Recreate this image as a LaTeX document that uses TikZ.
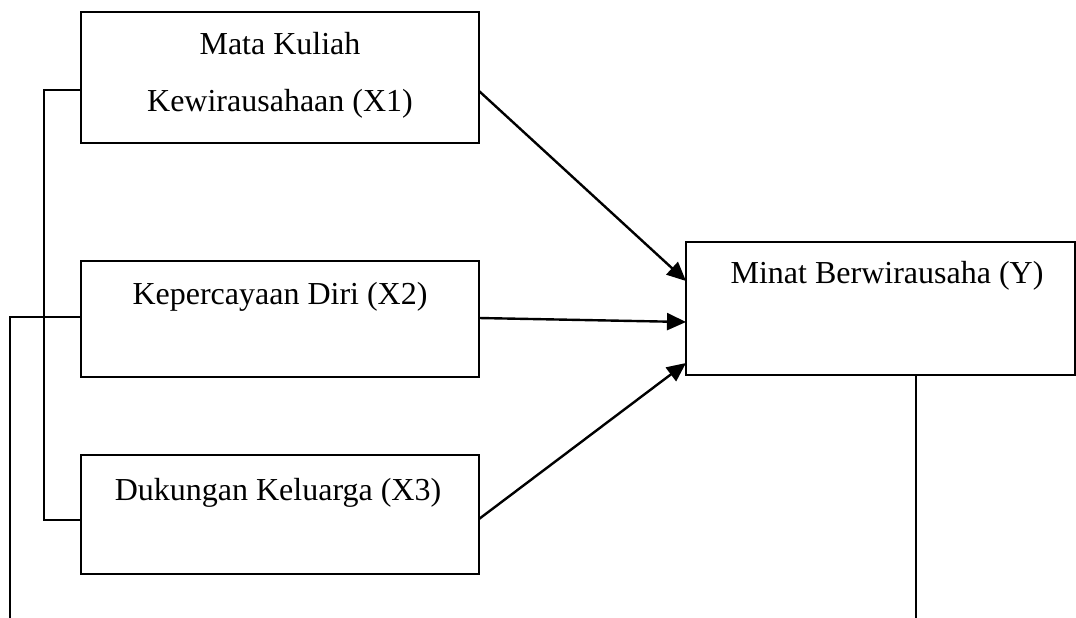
\documentclass[tikz,border=0pt]{standalone}
\usepackage{fontspec}
\setmainfont{Liberation Serif}
\usetikzlibrary{arrows.meta}
\begin{document}
\begin{tikzpicture}[x=1pt,y=-1pt,
  box/.style={draw,line width=2pt,rectangle,inner sep=0pt,outer sep=0pt},
  lbl/.style={anchor=base,inner sep=0pt,font=\fontsize{32}{38}\selectfont},
  conn/.style={line width=2pt},
  arr/.style={line width=2.4pt,-{Triangle[length=19pt,width=17pt]}}]
\useasboundingbox (0,0) rectangle (1076,618);
% boxes
\node[box,minimum width=398pt,minimum height=131pt] (x1) at (280,77.5) {};
\node[box,minimum width=398pt,minimum height=116pt] (x2) at (280,319) {};
\node[box,minimum width=398pt,minimum height=119pt] (x3) at (280,514.5) {};
\node[box,minimum width=389pt,minimum height=133pt] (y) at (880.5,308.5) {};
% texts
\node[lbl] (t1a) at (280,55) {Mata Kuliah};
\node[lbl] (t1b) at (280,111) {Kewirausahaan (X1)};
\node[lbl] (t2) at (280,304) {Kepercayaan Diri (X2)};
\node[lbl] (t3) at (278,500) {Dukungan Keluarga (X3)};
\node[lbl] (ty) at (887,283) {Minat Berwirausaha (Y)};
% free ends
\coordinate (c1a) at (44,90);
\coordinate (c1b) at (44,520);
\coordinate (c2a) at (10,317);
\coordinate (c2b) at (10,618);
\coordinate (cyb) at (916,618);
% arrows
\draw[arr] ([yshift=-13.5pt]x1.east) -- ([yshift=27.5pt]y.west);
\draw[arr] ([yshift=1pt]x2.east) -- ([yshift=-13.5pt]y.west);
\draw[arr] ([yshift=-4.5pt]x3.east) -- ([yshift=-54.5pt]y.west);
% brackets
\draw[conn] ([yshift=-12.5pt]x1.west) -- (c1a) -- (c1b) -- ([yshift=-5.5pt]x3.west);
\draw[conn] ([yshift=2pt]x2.west) -- (c2a) -- (c2b);
\draw[conn] ([xshift=35.5pt]y.south) -- (cyb);
\end{tikzpicture}
\end{document}
